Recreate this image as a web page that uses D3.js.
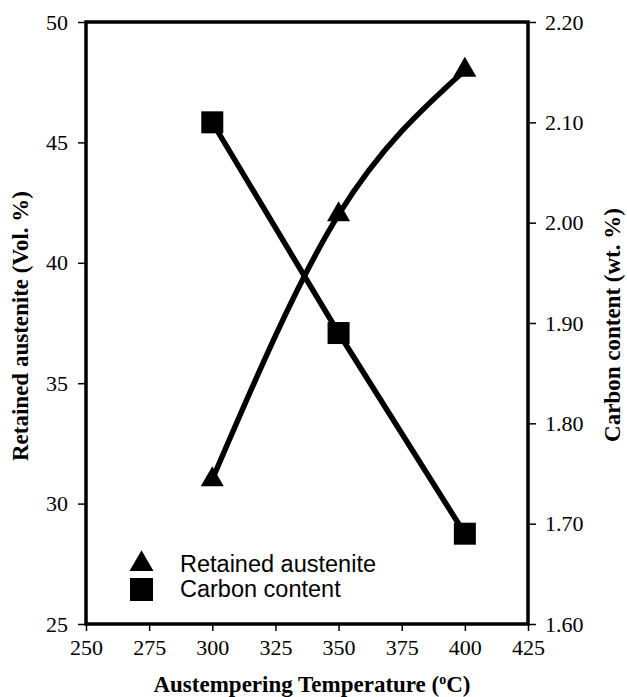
<!DOCTYPE html>
<html>
<head>
<meta charset="utf-8">
<script src="https://cdn.jsdelivr.net/npm/d3@7"></script>
<style>
  html, body { margin: 0; padding: 0; background: #fff; }
  svg { display: block; }
</style>
</head>
<body>
<svg id="chart" width="627" height="697"></svg>
<script>
// Austempering temperature (°C)
const temperatures = [300, 350, 400];
// Retained austenite, Vol. %
const austenite = [31, 42, 48];
// Carbon content, wt. %
const carbon = [2.10, 1.89, 1.69];

const xTicks = [250, 275, 300, 325, 350, 375, 400, 425];
const yLeftTicks = [25, 30, 35, 40, 45, 50];
const yRightTicks = [1.60, 1.70, 1.80, 1.90, 2.00, 2.10, 2.20];

const svg = d3.select("#chart");
const m = { left: 86, right: 528, top: 22, bottom: 624 };

const x = d3.scaleLinear().domain([250, 425]).range([m.left, m.right]);
const yL = d3.scaleLinear().domain([25, 50]).range([m.bottom, m.top]);
const yR = d3.scaleLinear().domain([1.60, 2.20]).range([m.bottom, m.top]);

const serif = "Liberation Serif, Times New Roman, DejaVu Serif, serif";
const sans = "Liberation Sans, Arial, sans-serif";

// Axes
const styleAxis = g => {
  g.attr("font-family", serif).attr("font-size", 22);
  g.select(".domain").remove();
  g.selectAll(".tick line").attr("stroke", "#000").attr("stroke-width", 1.5);
  g.selectAll(".tick text").attr("fill", "#000");
};

svg.append("g").attr("transform", `translate(0,${m.bottom})`)
  .call(d3.axisBottom(x).tickValues(xTicks).tickSize(7).tickPadding(8).tickFormat(d3.format("d")))
  .call(styleAxis);

svg.append("g").attr("transform", `translate(${m.left},0)`)
  .call(d3.axisLeft(yL).tickValues(yLeftTicks).tickSize(8).tickPadding(10).tickFormat(d3.format("d")))
  .call(styleAxis);

svg.append("g").attr("transform", `translate(${m.right},0)`)
  .call(d3.axisRight(yR).tickValues(yRightTicks).tickSize(8).tickPadding(9).tickFormat(d3.format(".2f")))
  .call(styleAxis);

// Plot frame
svg.append("rect")
  .attr("x", m.left).attr("y", m.top)
  .attr("width", m.right - m.left).attr("height", m.bottom - m.top)
  .attr("fill", "none").attr("stroke", "#000").attr("stroke-width", 3.5);

// Retained austenite curve (smooth)
const ptsA = temperatures.map((t, i) => [x(t), yL(austenite[i])]);
svg.append("path")
  .attr("d", d3.line().curve(d3.curveMonotoneX)(ptsA))
  .attr("fill", "none").attr("stroke", "#000").attr("stroke-width", 5.5);

// Carbon content line (straight segments)
const ptsC = temperatures.map((t, i) => [x(t), yR(carbon[i])]);
svg.append("path")
  .attr("d", d3.line()(ptsC))
  .attr("fill", "none").attr("stroke", "#000").attr("stroke-width", 5.5);

// Markers
const tri = d3.symbol().type(d3.symbolTriangle).size(230);
svg.selectAll(".tri").data(ptsA).join("path")
  .attr("transform", d => `translate(${d[0]},${d[1]})`)
  .attr("d", tri).attr("fill", "#000");

svg.selectAll(".sq").data(ptsC).join("rect")
  .attr("x", d => d[0] - 11).attr("y", d => d[1] - 11)
  .attr("width", 22).attr("height", 22).attr("fill", "#000");

// Legend
const legend = svg.append("g").attr("font-family", sans).attr("font-size", 23.5);
legend.append("path")
  .attr("transform", "translate(141.5,564)")
  .attr("d", d3.symbol().type(d3.symbolTriangle).size(250)).attr("fill", "#000");
legend.append("rect").attr("x", 130).attr("y", 578).attr("width", 23).attr("height", 23).attr("fill", "#000");
legend.append("text").attr("x", 180).attr("y", 572).text("Retained austenite");
legend.append("text").attr("x", 180).attr("y", 597).text("Carbon content");

// Axis titles
const titles = svg.append("g")
  .attr("font-family", serif).attr("font-size", 23).attr("font-weight", "bold");

const xt = titles.append("text")
  .attr("x", (m.left + m.right) / 2 + 5).attr("y", 692)
  .attr("text-anchor", "middle");
xt.append("tspan").text("Austempering Temperature (");
xt.append("tspan").attr("dy", -8).attr("font-size", 14).text("o");
xt.append("tspan").attr("dy", 8).text("C)");

titles.append("text")
  .attr("transform", "translate(28,326) rotate(-90)")
  .attr("text-anchor", "middle")
  .text("Retained austenite (Vol. %)");

titles.append("text")
  .attr("transform", "translate(620,325) rotate(-90)")
  .attr("text-anchor", "middle")
  .text("Carbon content (wt. %)");
</script>
</body>
</html>
